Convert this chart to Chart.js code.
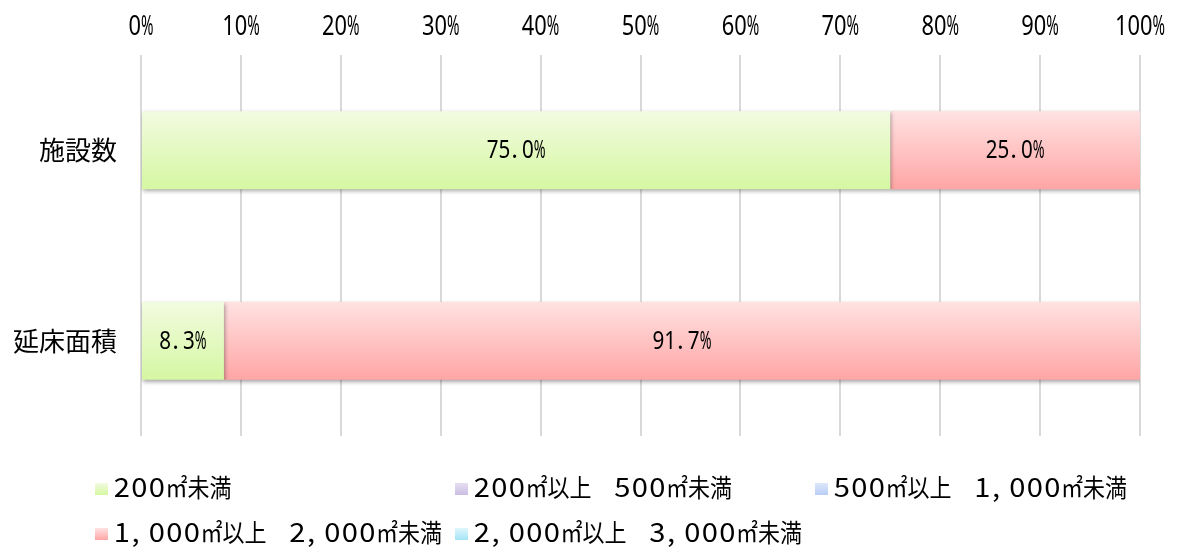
<!DOCTYPE html>
<html>
<head>
<meta charset="utf-8">
<script src="https://cdn.jsdelivr.net/npm/chart.js@4/dist/chart.umd.min.js"></script>
<style>
  html, body { margin: 0; padding: 0; background: #fff; }
  #wrap { width: 1178px; height: 550px; }
</style>
</head>
<body>
<div id="wrap"><canvas id="area-chart" width="1178" height="550"></canvas></div>
<script>
// categories and series (percent share per size class)
const categories = ['施設数', '延床面積'];
const seriesNames = ['200㎡未満', '200㎡以上　500㎡未満', '500㎡以上　1,000㎡未満', '1,000㎡以上　2,000㎡未満', '2,000㎡以上　3,000㎡未満'];
const under200 = [75.0, 8.3];
const from200to500 = [0, 0];
const from500to1000 = [0, 0];
const from1000to2000 = [25.0, 91.7];
const from2000to3000 = [0, 0];
const xTicks = [0, 10, 20, 30, 40, 50, 60, 70, 80, 90, 100];

// top / bottom colours of each series gradient
const gradTop = ['#f2fbe0', '#e6def2', '#dde7fb', '#ffe2e2', '#dff6fc'];
const gradBottom = ['#d5f7a2', '#cbbde3', '#b9cdf6', '#ffa5a5', '#a3e4f7'];

const JP_FONT = '"Noto Sans CJK JP", sans-serif';
const BAR_H = 78;

// text styles: half-width chars sit in fixed cells, glyphs squeezed/stretched to fit
const tickStyle = {
  half: { font: '28px "Noto Sans"', cell: 12.5, max: 1 }
};
const valueStyle = {
  half: { font: '25px "Noto Sans"', cell: 11.8, max: 1 }
};
const legendStyle = {
  half: { font: '26px ' + JP_FONT, cell: 17.5, max: 1.12 },
  full: { font: '25px ' + JP_FONT, cell: 22, max: 1 }
};

function isFull(ch) {
  return ch.charCodeAt(0) >= 0x2e80;
}

function cellWidth(text, st) {
  let w = 0;
  for (const ch of text) w += (isFull(ch) ? st.full : st.half).cell;
  return w;
}

// draws text on an alphabetic baseline, one cell per character
function drawCells(c, text, x, baseline, st, align) {
  let cx = x;
  if (align === 'center') cx = x - cellWidth(text, st) / 2;
  for (const ch of text) {
    const g = isFull(ch) ? st.full : st.half;
    c.font = g.font;
    const w = c.measureText(ch).width;
    const s = w > 0 ? Math.min(g.cell / w, g.max) : 1;
    const punct = ch === '.' || ch === ',';
    c.save();
    c.translate(punct ? cx + 1 : cx + g.cell / 2, baseline);
    c.scale(s, 1);
    c.textAlign = punct ? 'left' : 'center';
    c.textBaseline = 'alphabetic';
    c.fillText(ch, 0, 0);
    c.restore();
    cx += g.cell;
  }
}

function barGradient(i) {
  return function(ctx) {
    const chart = ctx.chart;
    const y = chart.scales.y;
    if (!y || ctx.dataIndex === undefined) return gradBottom[i];
    const c = y.getPixelForValue(ctx.dataIndex);
    if (!isFinite(c)) return gradBottom[i];
    const g = chart.ctx.createLinearGradient(0, c - BAR_H / 2, 0, c + BAR_H / 2);
    g.addColorStop(0, gradTop[i]);
    g.addColorStop(1, gradBottom[i]);
    return g;
  };
}

const seriesData = [under200, from200to500, from500to1000, from1000to2000, from2000to3000];

// soft drop shadow under the bars
const barShadow = {
  id: 'barShadow',
  beforeDatasetDraw(chart) {
    const c = chart.ctx;
    c.save();
    c.shadowColor = 'rgba(0,0,0,0.35)';
    c.shadowBlur = 4;
    c.shadowOffsetX = 1;
    c.shadowOffsetY = 2;
  },
  afterDatasetDraw(chart) {
    chart.ctx.restore();
  }
};

// percent labels along the top axis
const topTicks = {
  id: 'topTicks',
  afterDraw(chart) {
    const s = chart.scales.x;
    const c = chart.ctx;
    c.save();
    c.fillStyle = '#000';
    s.ticks.forEach(t => {
      drawCells(c, t.value + '%', s.getPixelForValue(t.value), 35, tickStyle, 'center');
    });
    c.restore();
  }
};

// value labels in the middle of each segment
const valueLabels = {
  id: 'valueLabels',
  afterDatasetsDraw(chart) {
    const c = chart.ctx;
    c.save();
    c.fillStyle = '#000';
    chart.data.datasets.forEach((ds, di) => {
      const meta = chart.getDatasetMeta(di);
      meta.data.forEach((bar, i) => {
        const v = ds.data[i];
        if (!v) return;
        const cx = (bar.x + bar.base) / 2;
        drawCells(c, v.toFixed(1) + '%', cx, bar.y + 8, valueStyle, 'center');
      });
    });
    c.restore();
  }
};

// legend laid out in a three-column grid below the plot
const gridLegend = {
  id: 'gridLegend',
  afterDraw(chart) {
    const c = chart.ctx;
    c.save();
    chart.data.datasets.forEach((ds, i) => {
      const col = i % 3, row = Math.floor(i / 3);
      const x = 95 + col * 360;
      const base = 497 + row * 45;
      const g = c.createLinearGradient(0, base - 14, 0, base - 2);
      g.addColorStop(0, gradTop[i]);
      g.addColorStop(1, gradBottom[i]);
      c.fillStyle = g;
      c.fillRect(x, base - 14, 13, 12);
      c.fillStyle = '#000';
      drawCells(c, ds.label, x + 18, base, legendStyle, 'left');
    });
    c.restore();
  }
};

new Chart('area-chart', {
  type: 'bar',
  data: {
    labels: categories,
    datasets: seriesData.map((d, i) => ({
      label: seriesNames[i],
      data: d,
      backgroundColor: barGradient(i),
      borderWidth: 0,
      categoryPercentage: 1,
      barPercentage: 0.41
    }))
  },
  options: {
    indexAxis: 'y',
    responsive: false,
    animation: false,
    layout: { padding: { left: 0, right: 38, top: 0, bottom: 114 } },
    scales: {
      x: {
        position: 'top',
        stacked: true,
        min: 0,
        max: 100,
        afterBuildTicks: s => { s.ticks = xTicks.map(v => ({ value: v })); },
        afterFit: s => { s.height = 55; },
        ticks: { display: false },
        grid: { color: '#d9d9d9', lineWidth: 2, drawTicks: false },
        border: { display: false }
      },
      y: {
        stacked: true,
        afterFit: s => { s.width = 141; },
        ticks: {
          padding: 24,
          color: '#000',
          font: { family: JP_FONT, size: 26 }
        },
        grid: { display: false, drawTicks: false },
        border: { display: false }
      }
    },
    plugins: {
      legend: { display: false },
      tooltip: { enabled: false }
    }
  },
  plugins: [barShadow, valueLabels, topTicks, gridLegend]
});
</script>
</body>
</html>
